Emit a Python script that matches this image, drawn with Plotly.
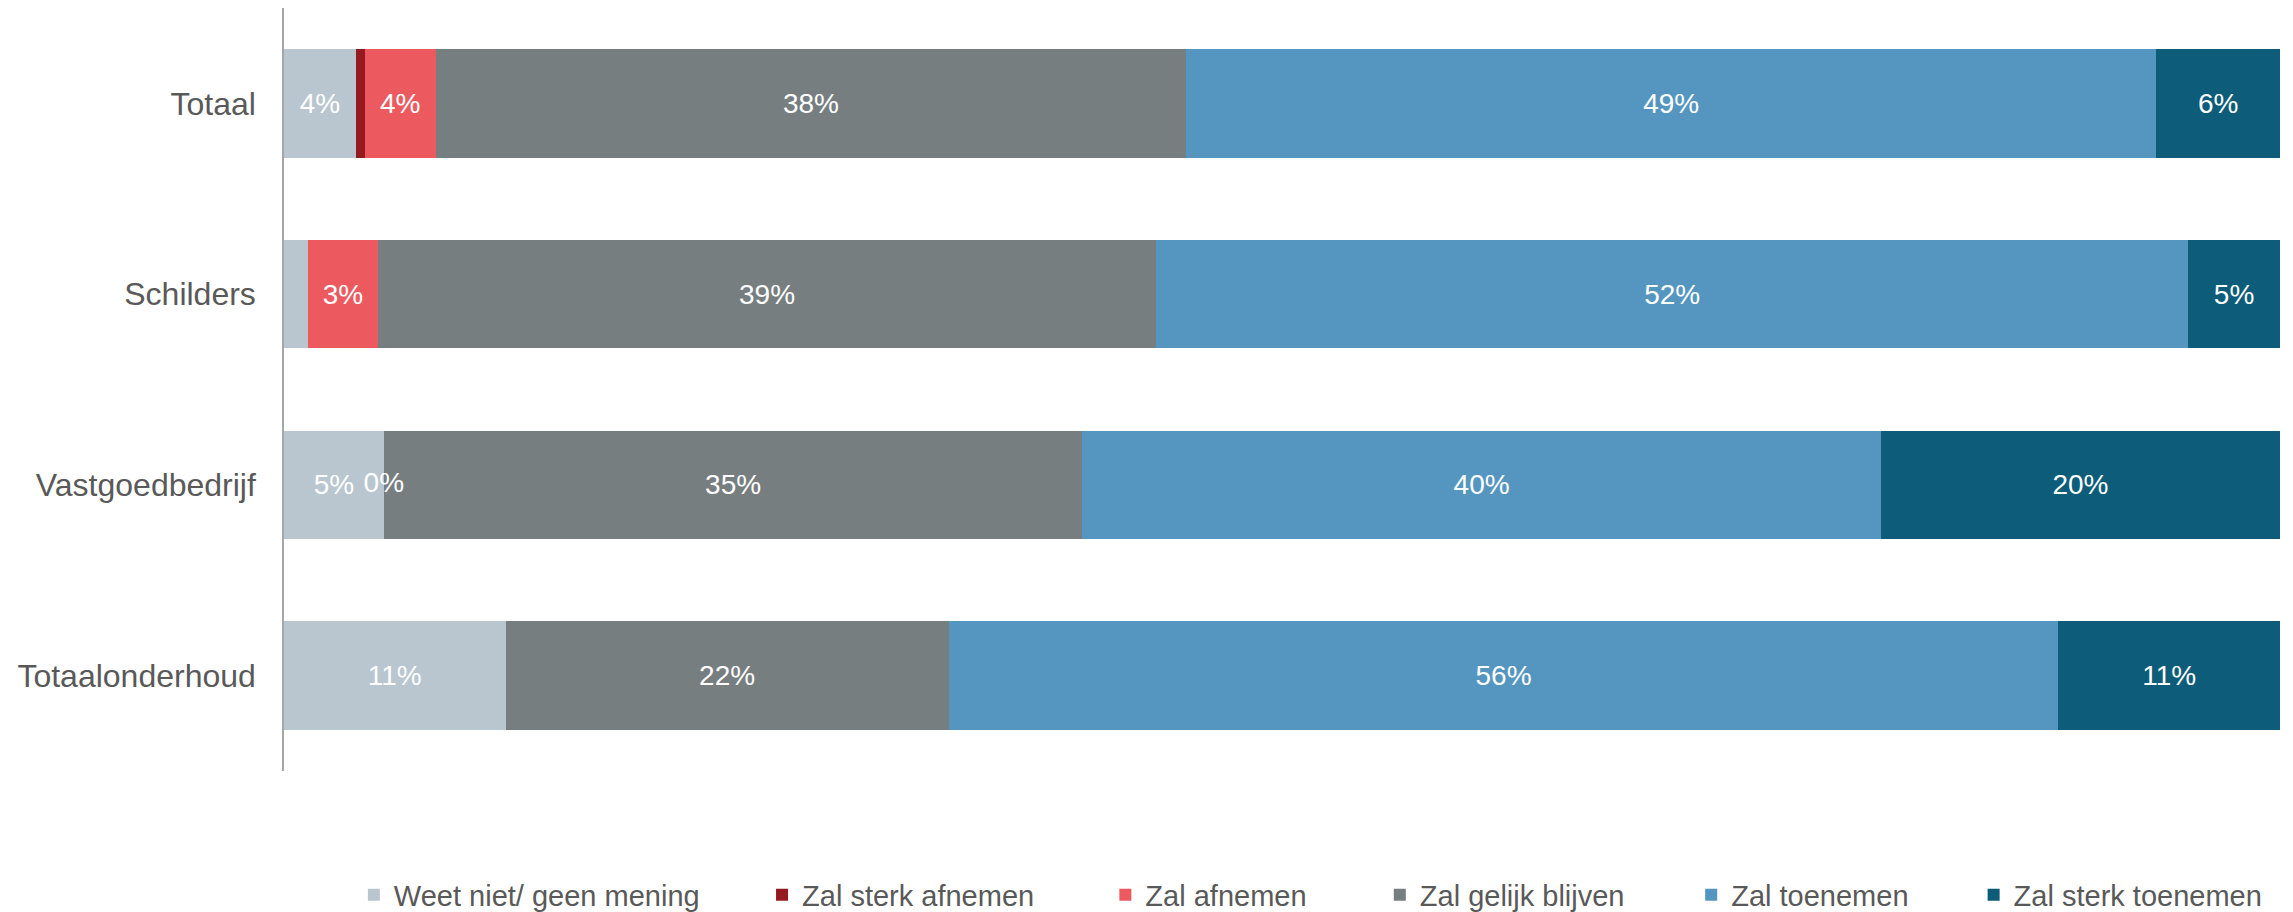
import plotly.graph_objects as go

categories = ["Totaal", "Schilders", "Vastgoedbedrijf", "Totaalonderhoud"]

series_names = ["Weet niet/ geen mening", "Zal sterk afnemen", "Zal afnemen",
                "Zal gelijk blijven", "Zal toenemen", "Zal sterk toenemen"]

weet_niet = [3.6, 1.2, 5.0, 11.1]
sterk_afnemen = [0.45, None, None, None]
afnemen = [3.55, 3.5, 0.0, None]
gelijk = [37.6, 39.0, 35.0, 22.2]
toenemen = [48.6, 51.7, 40.0, 55.6]
sterk_toenemen = [6.2, 4.6, 20.0, 11.1]

weet_niet_lbl = ["4%", "", "5%", "11%"]
sterk_afnemen_lbl = ["", "", "", ""]
afnemen_lbl = ["4%", "3%", "0%", ""]
gelijk_lbl = ["38%", "39%", "35%", "22%"]
toenemen_lbl = ["49%", "52%", "40%", "56%"]
sterk_toenemen_lbl = ["6%", "5%", "20%", "11%"]

colors = ["#B9C6D0", "#951A1F", "#EC5A5F", "#767E80", "#5496C0", "#0C5C7A"]

# legend entry positions (paper x) for each series
legend_x = [0.035, 0.2395, 0.4115, 0.549, 0.705, 0.8465]

values = [weet_niet, sterk_afnemen, afnemen, gelijk, toenemen, sterk_toenemen]
labels = [weet_niet_lbl, sterk_afnemen_lbl, afnemen_lbl, gelijk_lbl, toenemen_lbl, sterk_toenemen_lbl]

FONT = "Liberation Sans, Arial, sans-serif"

fig = go.Figure()
legend_layout = {}
for i, (name, vals, lbls, col) in enumerate(zip(series_names, values, labels, colors)):
    lg = "legend" if i == 0 else f"legend{i + 1}"
    fig.add_trace(go.Bar(
        y=categories, x=vals, name=name, orientation="h",
        marker=dict(color=col, line=dict(width=0)),
        text=lbls, textposition="inside", insidetextanchor="middle",
        textangle=0, constraintext="none",
        textfont=dict(color="white", size=28, family=FONT),
        hoverinfo="skip", legend=lg,
    ))
    legend_layout[lg] = dict(
        orientation="h", x=legend_x[i], xanchor="left", y=-0.1625, yanchor="middle",
        font=dict(size=29, color="#595959", family=FONT),
        bgcolor="rgba(0,0,0,0)", borderwidth=0,
    )

# labels for zero-width segments (not drawn by bar text)
zx, zy, zt = [], [], []
for ci, cat in enumerate(categories):
    cum = 0.0
    for vals, lbls in zip(values, labels):
        v = vals[ci]
        if v is None:
            continue
        if v == 0 and lbls[ci]:
            zx.append(cum)
            zy.append(cat)
            zt.append(lbls[ci])
        cum += v
fig.add_trace(go.Scatter(
    x=zx, y=zy, text=zt, mode="text", showlegend=False,
    textfont=dict(color="white", size=28, family=FONT), hoverinfo="skip",
))

fig.update_layout(
    width=2285, height=904,
    barmode="stack", bargap=0.43,
    margin=dict(l=276, r=13, t=0, b=141, autoexpand=False),
    plot_bgcolor="white", paper_bgcolor="white",
    font=dict(family=FONT, color="#595959"),
    xaxis=dict(range=[0, 100], visible=False, fixedrange=True),
    yaxis=dict(autorange="reversed", showline=True, linecolor="#A6A6A6", linewidth=1.5,
               showgrid=False, ticks="", ticklabelstandoff=20,
               tickfont=dict(size=32, color="#595959", family=FONT)),
    showlegend=True,
    **legend_layout,
)

fig.write_html("out.html")
